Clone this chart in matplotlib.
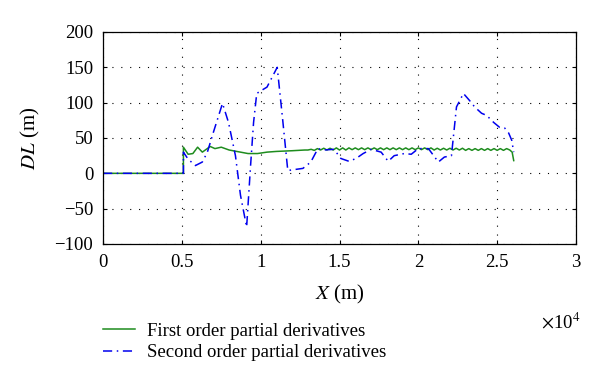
import matplotlib
matplotlib.use('Agg')
import matplotlib.pyplot as plt

# first order partial derivatives (green)
x_first = [0, 5100, 5100, 5400, 5700, 6000, 6300, 6800, 7100, 7500, 8000, 9200, 9800,
           10400, 11000, 12000, 12800,
           13000, 13200, 13400, 13600, 13800, 14000, 14200, 14400, 14600, 14800,
           15000, 15200, 15400, 15600, 15800, 16000, 16200, 16400, 16600, 16800,
           17000, 17200, 17400, 17600, 17800, 18000, 18200, 18400, 18600, 18800,
           19000, 19200, 19400, 19600, 19800, 20000, 20200, 20400, 20600, 20800,
           21000, 21200, 21400, 21600, 21800, 22000, 22200, 22400, 22600, 22800,
           23000, 23200, 23400, 23600, 23800, 24000, 24200, 24400, 24600, 24800,
           25000, 25200, 25400, 25600, 25800, 25950, 26050]
dl_first = [0, 0, 37, 27, 28, 37, 30, 38, 35, 37, 33, 28, 28,
            30, 31, 32, 33,
            33, 34, 32.5, 35, 33, 35.5, 33, 35.5, 33, 36,
            33, 36, 33, 36, 33.5, 36, 33.5, 36, 33.5, 36,
            33.5, 36, 33.5, 36, 33.5, 36, 33.5, 36, 33.5, 36,
            33.5, 36, 33.5, 36, 33.5, 36, 33.5, 36, 33.5, 36,
            33, 35.5, 33, 35.5, 33, 35.5, 33, 35.5, 33, 35.5,
            32.5, 35, 32.5, 35, 32.5, 35, 32.5, 35, 32.5, 35,
            32.5, 35, 32.5, 35, 33, 30, 18]

# second order partial derivatives (blue)
x_second = [0, 5100, 5100, 5400, 5860, 6300, 6620, 7000, 7580, 7960, 8400, 8720, 9110,
            9360, 9550, 9750, 10100, 10400, 11050, 11400, 11720, 12680, 13180, 13630,
            14010, 14650, 15090, 15600, 16050, 16500, 17010, 17640, 18090, 18470,
            19110, 19550, 20000, 20640, 21270, 21650, 22100, 22420, 22860, 23250,
            23570, 24010, 24330, 24780, 25160, 25480, 25730, 25920, 26050]
dl_second = [0, 0, 30, 20, 11, 16, 30, 58, 99, 72, 25, -31, -76,
             11, 72, 113, 118, 122, 150, 75, 4, 7, 16, 35,
             33, 34, 21, 17, 21, 28, 34, 30, 17, 25,
             28, 27, 35, 35, 16, 23, 25, 94, 113, 103,
             94, 85, 82, 72, 65, 64, 57, 47, 30]

x_ticks = [0, 5000, 10000, 15000, 20000, 25000, 30000]
x_tick_labels = ['0', '0.5', '1', '1.5', '2', '2.5', '3']
y_ticks = [-100, -50, 0, 50, 100, 150, 200]

plt.rcParams['font.family'] = 'Liberation Serif'
plt.rcParams['mathtext.fontset'] = 'stix'

fig = plt.figure(figsize=(6, 3.87), dpi=100)
ax = fig.add_axes([103/600, 1 - 244/387, 473/600, 212/387])

ax.plot(x_first, dl_first, color='#1e8c1e', lw=1.1, label='First order partial derivatives')
ax.plot(x_second, dl_second, color='#0000ee', lw=1.1, dashes=(6, 3, 1, 3),
        label='Second order partial derivatives')

ax.set_xlim(0, 30000)
ax.set_ylim(-100, 200)
ax.set_xticks(x_ticks)
ax.set_xticklabels(x_tick_labels)
ax.set_yticks(y_ticks)
ax.tick_params(direction='in', length=3, labelsize=13.5, top=True, right=True, pad=7)
ax.grid(True, color='black', linestyle=(0, (1, 7)), linewidth=0.8)
for s in ax.spines.values():
    s.set_linewidth(0.9)

ax.set_xlabel('$X$ (m)', fontsize=15, labelpad=9)
ax.set_ylabel('$DL$ (m)', fontsize=15, labelpad=9)
fig.text(561/600, 1 - 322/387, r'$\times$10$^4$', fontsize=13.5, ha='center', va='center')

fig.legend(loc='center left', bbox_to_anchor=(103/600, 1 - 342/387), frameon=False,
           fontsize=13.5, handlelength=1.7, handletextpad=0.65, labelspacing=0.25,
           borderpad=0, borderaxespad=0)

fig.savefig('out.png', dpi=100)
